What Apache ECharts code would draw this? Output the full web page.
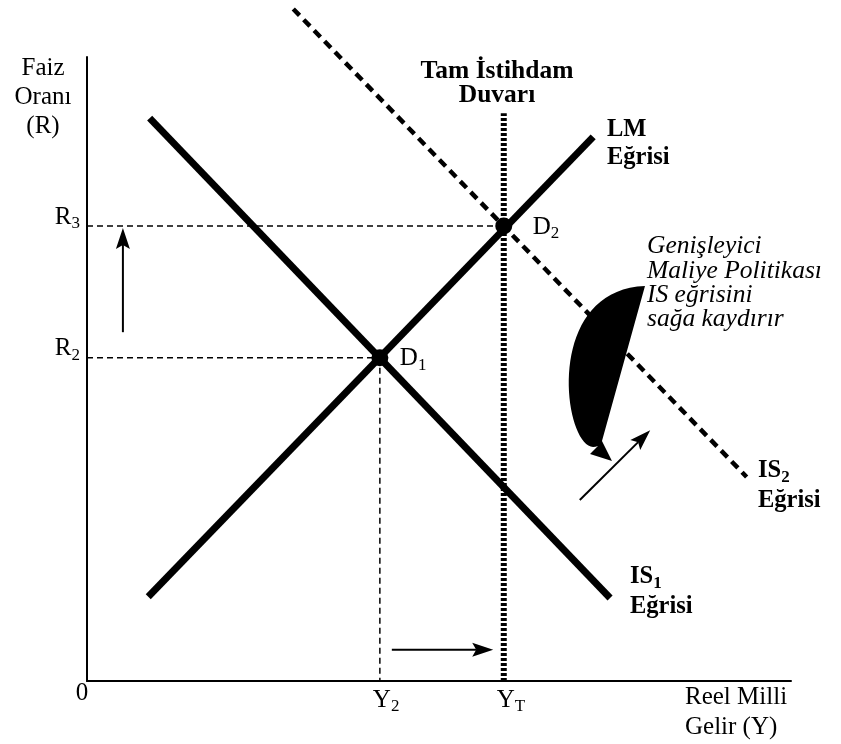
<!DOCTYPE html>
<html><head><meta charset="utf-8">
<script src="https://cdn.jsdelivr.net/npm/echarts@6/dist/echarts.min.js"></script>
<style>html,body{margin:0;padding:0;background:#fff}#c{width:841px;height:744px}</style>
</head><body><div id="c"></div>
<script>
// ---- data (chart units) ----
const Y2 = 41.6, YT = 59.2, R2 = 51.8, R3 = 72.9;
const LM = [[8.7, 13.5], [71.9, 87.2]];
const IS1 = [[8.9, 90.2], [74.3, 13.3]];
const IS2 = [[29.3, 107.7], [93.7, 32.7]];
const wallTop = 91;
const equilibria = [[Y2, R2], [YT, R3]];
const eqNames = ['D', 'D'];
const eqSubs = ['1', '2'];
const yTickValues = [R2, R3];
const yTickSubs = ['2', '3'];
const xTickValues = [Y2, YT];
const xTickSubs = ['2', 'T'];
const shiftArrows = [[5.1, 55.9, 5.1, 72.6], [43.3, 5.0, 57.7, 5.0], [70.0, 29.0, 80.0, 40.2]];
const crescentEdge = [[79.26, 63.30], [73.15, 38.46]];
const crescentHead = [[74.57, 35.26], [71.45, 36.38], [72.58, 37.66]];
const crescentCurve = [[67.90, 35.10], [64.06, 62.66]];

const F = 'Liberation Serif';
const chart = echarts.init(document.getElementById('c'), null, {renderer: 'canvas'});

function lineSeries(data, width, type, clip) {
  return {type: 'line', data: data, symbol: 'none', clip: clip !== false, animation: false,
    lineStyle: {color: '#000', width: width, type: type || 'solid', cap: 'butt', opacity: 1}, z: 3};
}

function renderArrow(params, api) {
  const p1 = api.coord([api.value(0), api.value(1)]);
  const p2 = api.coord([api.value(2), api.value(3)]);
  const dx = p2[0] - p1[0], dy = p2[1] - p1[1];
  const len = Math.hypot(dx, dy);
  const ux = dx / len, uy = dy / len, nx = -uy, ny = ux;
  const headL = 21, headW = 7, notch = 4;
  const base = [p2[0] - ux * headL, p2[1] - uy * headL];
  const inner = [p2[0] - ux * (headL - notch), p2[1] - uy * (headL - notch)];
  return {type: 'group', children: [
    {type: 'line', shape: {x1: p1[0], y1: p1[1], x2: inner[0], y2: inner[1]}, style: {stroke: '#000', lineWidth: 2}},
    {type: 'polygon', shape: {points: [p2, [base[0] + nx * headW, base[1] + ny * headW], inner, [base[0] - nx * headW, base[1] - ny * headW]]}, style: {fill: '#000'}}
  ]};
}

function renderCrescent(params, api) {
  const c = p => api.coord(p);
  const T = c(crescentEdge[0]), E = c(crescentEdge[1]);
  const tip = c(crescentHead[0]), barb = c(crescentHead[1]), N = c(crescentHead[2]);
  const C2 = c(crescentCurve[0]), C1 = c(crescentCurve[1]);
  const pts = [T, E, tip, barb, N];
  const n = 40;
  for (let i = 1; i <= n; i++) {
    const t = i / n, a = (1 - t) * (1 - t) * (1 - t), b = 3 * (1 - t) * (1 - t) * t, d = 3 * (1 - t) * t * t, e = t * t * t;
    pts.push([a * N[0] + b * C2[0] + d * C1[0] + e * T[0], a * N[1] + b * C2[1] + d * C1[1] + e * T[1]]);
  }
  return {type: 'polygon', shape: {points: pts}, style: {fill: '#000'}};
}

const option = {
  animation: false,
  backgroundColor: '#fff',
  grid: {left: 87, right: 50, top: 57, bottom: 63, containLabel: false},
  xAxis: {type: 'value', min: 0, max: 100, axisLine: {show: true, onZero: false, lineStyle: {color: '#000', width: 2}},
    axisTick: {show: false}, axisLabel: {show: false}, splitLine: {show: false}},
  yAxis: {type: 'value', min: 0, max: 100, axisLine: {show: true, onZero: false, lineStyle: {color: '#000', width: 2}},
    axisTick: {show: false}, axisLabel: {show: false}, splitLine: {show: false}},
  series: [
    lineSeries([[0, R2], [Y2, R2]], 1.5, [6, 4]),
    lineSeries([[Y2, R2], [Y2, 0]], 1.5, [6, 4]),
    lineSeries([[0, R3], [YT, R3]], 1.5, [6, 4]),
    lineSeries([[YT, 0], [YT, wallTop]], 6, [3, 2]),
    lineSeries(IS2, 4.5, [9, 6], false),
    lineSeries(LM, 7),
    lineSeries(IS1, 7),
    {type: 'scatter', data: equilibria, symbol: 'circle', symbolSize: 17, itemStyle: {color: '#000', opacity: 1}, z: 5},
    {type: 'custom', data: shiftArrows, encode: {x: [0, 2], y: [1, 3]}, renderItem: renderArrow, clip: false, z: 4},
    {type: 'custom', data: [[crescentEdge[0][0], crescentEdge[0][1]]], renderItem: renderCrescent, clip: false, z: 4}
  ]
};
chart.setOption(option);

const px = p => chart.convertToPixel({gridIndex: 0}, p);
const subRich = (w) => ({
  m: {fontFamily: F, fontSize: w === 'bold' ? 24.5 : 25, fontWeight: w, lineHeight: 30, fill: '#000'},
  s: {fontFamily: F, fontSize: 17, fontWeight: w, lineHeight: 15, verticalAlign: 'bottom', fill: '#000'}
});
const graphics = [];
function txt(x, y, text, opts) {
  graphics.push({type: 'text', x: x, y: y, z: 10, style: Object.assign({
    text: text, fill: '#000', fontFamily: F, fontSize: 25, align: 'left', verticalAlign: 'middle'}, opts || {})});
}
const origin = px([0, 0]);
yTickValues.forEach((v, i) => {
  const p = px([0, v]);
  txt(p[0] - 7, p[1] - 9, '{m|R}{s|' + yTickSubs[i] + '}', {align: 'right', rich: subRich('normal')});
});
xTickValues.forEach((v, i) => {
  const p = px([v, 0]);
  txt(p[0] - 7, p[1] + 19, '{m|Y}{s|' + xTickSubs[i] + '}', {align: 'left', rich: subRich('normal')});
});
equilibria.forEach((e, i) => {
  const p = px(e);
  txt(p[0] + (i === 0 ? 20 : 29), p[1] + 1, '{m|' + eqNames[i] + '}{s|' + eqSubs[i] + '}', {align: 'left', rich: subRich('normal')});
});
txt(origin[0] - 5, origin[1] + 12, '0', {align: 'center'});
txt(43, 97, 'Faiz\nOranı\n(R)', {align: 'center', lineHeight: 29});
txt(685, 712, 'Reel Milli\nGelir (Y)', {align: 'left', lineHeight: 30});
txt(497, 83, 'Tam İstihdam\nDuvarı', {align: 'center', fontWeight: 'bold', fontSize: 25.5, lineHeight: 24});
txt(607, 144, 'LM\nEğrisi', {align: 'left', fontWeight: 'bold', fontSize: 24.5, lineHeight: 28});
txt(758, 486, '{m|IS}{s|2}\n{m|Eğrisi}', {align: 'left', rich: subRich('bold')});
txt(630, 592, '{m|IS}{s|1}\n{m|Eğrisi}', {align: 'left', rich: subRich('bold')});
txt(647, 283, 'Genişleyici\nMaliye Politikası\nIS eğrisini\nsağa kaydırır', {align: 'left', fontStyle: 'italic', fontSize: 25.5, lineHeight: 24.3});
chart.setOption({graphic: graphics});
</script></body></html>
